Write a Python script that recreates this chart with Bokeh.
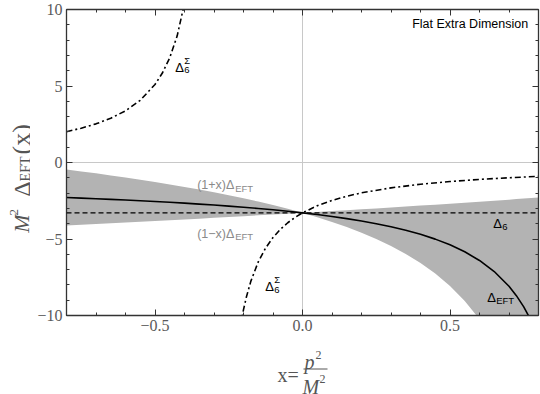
import numpy as np
from bokeh.plotting import figure
from bokeh.layouts import row, column
from bokeh.models import Label, Span, LinearAxis, SingleIntervalTicker, Range1d
from bokeh.embed import file_html
from bokeh.resources import INLINE

# ---------------- data ----------------
x_eft = [-0.8, -0.75, -0.7, -0.65, -0.6, -0.55, -0.5, -0.45, -0.4, -0.35, -0.3, -0.25,
         -0.2, -0.15, -0.1, -0.05, 0.0, 0.05, 0.1, 0.15, 0.2, 0.25, 0.3, 0.35, 0.4,
         0.45, 0.5, 0.55, 0.6, 0.65, 0.7, 0.725, 0.75, 0.775, 0.8]
delta_eft = [-2.288, -2.326, -2.366, -2.408, -2.452, -2.499, -2.549, -2.601, -2.658,
             -2.718, -2.782, -2.851, -2.925, -3.005, -3.092, -3.186, -3.290, -3.403,
             -3.529, -3.668, -3.824, -4.000, -4.200, -4.429, -4.695, -5.008, -5.382,
             -5.837, -6.403, -7.128, -8.092, -8.704, -9.437, -10.332, -11.449]

delta6 = -3.29

x_sig_left = [-0.8, -0.75, -0.7, -0.65, -0.6, -0.55, -0.5, -0.475, -0.45, -0.425, -0.4, -0.39]
sig_left = [2.016, 2.242, 2.525, 2.890, 3.378, 4.065, 5.101, 5.847, 6.847, 8.262, 10.412, 11.62]

x_sig_right = [-0.21, -0.2, -0.19, -0.175, -0.15, -0.125, -0.1, -0.075, -0.05, -0.025, 0.0,
               0.05, 0.1, 0.15, 0.2, 0.3, 0.4, 0.5, 0.6, 0.7, 0.8]
sig_right = [-10.643, -9.619, -8.775, -7.754, -6.495, -5.588, -4.903, -4.368, -3.938, -3.585,
             -3.290, -2.825, -2.476, -2.203, -1.984, -1.656, -1.421, -1.244, -1.106, -0.996,
             -0.906]

y_ticks = {10: "10", 5: "5", 0: "0", -5: "\u22125", -10: "\u221210"}
x_ticks = {-0.5: "\u22120.5", 0: "0.0", 0.5: "0.5"}

SERIF = "Liberation Serif"
SANS = "Liberation Sans"
AX = "#333333"
YC = "#555555"
GRAY = "#8a8a8a"

YW = 30          # width of the y-label strip
MW = 540 - YW    # width of the main figure
MH = 340         # height of the main figure
XH = 394 - MH    # height of the x-label strip

# ---------------- main figure ----------------
p = figure(width=MW, height=MH, x_range=Range1d(-0.8, 0.8), y_range=Range1d(-10, 10),
           output_backend="svg", toolbar_location=None,
           min_border_left=66 - YW, min_border_right=2, min_border_top=9, min_border_bottom=25)
p.xgrid.visible = False
p.ygrid.visible = False
p.outline_line_color = None
p.border_fill_color = None


def style_axis(ax, labels):
    ax.axis_line_color = AX
    ax.axis_line_width = 1.3
    ax.major_tick_line_color = AX
    ax.minor_tick_line_color = AX
    ax.major_tick_in = 6
    ax.major_tick_out = 0
    ax.minor_tick_in = 3
    ax.minor_tick_out = 0
    if labels:
        ax.major_label_text_font = SERIF
        ax.major_label_text_font_size = "16px"
        ax.major_label_text_color = "#5a5a5a"
        ax.major_label_standoff = 4
    else:
        ax.major_label_text_font_size = "0px"
        ax.major_label_standoff = 0


p.yaxis.ticker = SingleIntervalTicker(interval=5, num_minor_ticks=5)
p.xaxis.ticker = SingleIntervalTicker(interval=0.5, num_minor_ticks=5)
p.yaxis.major_label_overrides = y_ticks
p.xaxis.major_label_overrides = x_ticks
style_axis(p.yaxis[0], True)
style_axis(p.xaxis[0], True)

top = LinearAxis(ticker=SingleIntervalTicker(interval=0.5, num_minor_ticks=5),
                 major_label_overrides={k: "" for k in x_ticks})
style_axis(top, False)
p.add_layout(top, "above")
right = LinearAxis(ticker=SingleIntervalTicker(interval=5, num_minor_ticks=5),
                   major_label_overrides={k: "" for k in y_ticks})
style_axis(right, False)
p.add_layout(right, "right")

# zero lines
p.add_layout(Span(location=0, dimension="width", line_color="#c8c8c8", line_width=1, level="underlay"))
p.add_layout(Span(location=0, dimension="height", line_color="#c8c8c8", line_width=1, level="underlay"))

# band between (1+x)Δ and (1-x)Δ
xa = np.array(x_eft)
da = np.array(delta_eft)
p.varea(x=xa, y1=(1 + xa) * da, y2=(1 - xa) * da, fill_color="#b3b3b3", fill_alpha=1.0)

# Δ6 dashed
p.add_layout(Span(location=delta6, dimension="width", line_color="black", line_width=1.2,
                  line_dash="5 3"))

# Δ_EFT solid
p.line(x_eft, delta_eft, line_color="black", line_width=1.6)

# Δ6^Σ dot-dashed
p.line(x_sig_left, sig_left, line_color="black", line_width=1.6, line_dash="6 3 2 3")
p.line(x_sig_right, sig_right, line_color="black", line_width=1.6, line_dash="6 3 2 3")


def lab(fig, text, x, y, size, font=SANS, color="black", xo=0, yo=0, align="left",
        baseline="alphabetic", style="normal", angle=0):
    fig.add_layout(Label(x=x, y=y, x_offset=xo, y_offset=yo, text=text,
                         text_font=font, text_font_size=f"{size}px", text_color=color,
                         text_align=align, text_baseline=baseline, text_font_style=style,
                         angle=angle))


lab(p, "Flat Extra Dimension", 0.765, 9.02, 12.5, align="right", baseline="middle")


def delta_lab(x, y, sub, sup=None, size=13, subsize=9.5, color="black", dx=9):
    lab(p, "\u0394", x, y, size, color=color)
    lab(p, sub, x, y, subsize, color=color, xo=dx, yo=-3)
    if sup:
        lab(p, sup, x, y, subsize, color=color, xo=dx, yo=7)


delta_lab(-0.4315, 6.22, "6", "\u03a3")
delta_lab(-0.1264, -8.134, "6", "\u03a3")
delta_lab(0.6464, -4.0, "6")
delta_lab(0.626, -8.85, "EFT")

lab(p, "(1+x)\u0394", -0.357, -1.50, 12.5, color=GRAY)
lab(p, "EFT", -0.357, -1.50, 9.5, color=GRAY, xo=38, yo=-3)
lab(p, "(1\u2212x)\u0394", -0.357, -4.66, 12.5, color=GRAY)
lab(p, "EFT", -0.357, -4.66, 9.5, color=GRAY, xo=38, yo=-3)

# ---------------- y-axis label strip (data units = page pixels) ----------------
py = figure(width=YW, height=MH, x_range=Range1d(0, YW), y_range=Range1d(0, MH),
            output_backend="svg", toolbar_location=None, x_axis_type=None, y_axis_type=None,
            min_border=0)
py.grid.visible = False
py.outline_line_color = None
A = np.pi / 2
lab(py, "M", 21, MH - 248, 22, font=SERIF, color=YC, style="italic", angle=A)
lab(py, "2", 13, MH - 229, 13, font=SERIF, color=YC, angle=A)
lab(py, "\u0394", 21, MH - 208, 24, font=SERIF, color=YC, angle=A)
lab(py, "EFT", 24.5, MH - 191, 14, font=SERIF, color=YC, angle=A)
lab(py, "(x)", 21, MH - 161, 26, font=SERIF, color=YC, angle=A)

# ---------------- x-axis label strip (full width, data units = page pixels) ----------------
px = figure(width=540, height=XH, x_range=Range1d(0, 540), y_range=Range1d(0, XH),
            output_backend="svg", toolbar_location=None, x_axis_type=None, y_axis_type=None,
            min_border=0)
px.grid.visible = False
px.outline_line_color = None
OY = 394  # page y of strip bottom
lab(px, "x=", 277, OY - 374, 20, font=SERIF, color=YC)
lab(px, "p", 304, OY - 361, 20, font=SERIF, color=YC, style="italic")
lab(px, "2", 315, OY - 354, 12, font=SERIF, color=YC)
px.segment(x0=[303], y0=[OY - 368.5], x1=[327], y1=[OY - 368.5],
           line_color=YC, line_width=1)
lab(px, "M", 302, OY - 386, 20, font=SERIF, color=YC, style="italic")
lab(px, "2", 319, OY - 378, 12, font=SERIF, color=YC)

layout = column(row(py, p), px)
open("out.html", "w").write(file_html(layout, INLINE))
